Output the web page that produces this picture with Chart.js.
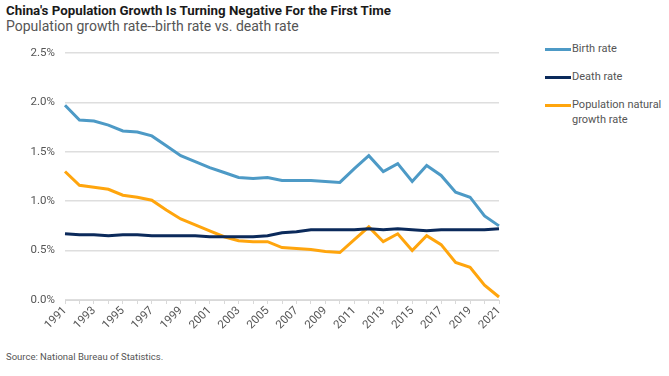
<!DOCTYPE html>
<html>
<head>
<meta charset="utf-8">
<script src="https://cdn.jsdelivr.net/npm/chart.js@4"></script>
<style>
  body { margin: 0; background: #fff; font-family: Roboto, "Liberation Sans", sans-serif; }
  #wrap { position: relative; width: 669px; height: 376px; overflow: hidden; }
  #title { position: absolute; left: 6px; top: 3px; font-size: 13.3px; font-weight: bold; color: #1a1a1a; white-space: nowrap; }
  #subtitle { position: absolute; left: 6px; top: 18px; font-size: 14px; color: #555; white-space: nowrap; }
  #chartBox { position: absolute; left: 0; top: 36px; width: 520px; height: 310px; }
  #legend { position: absolute; left: 545px; top: 41px; font-size: 11px; color: #555; }
  .item { position: relative; height: 28px; }
  .item span.swatch { position: absolute; left: 0; top: 7px; width: 26px; height: 3px; }
  .item span.txt { position: absolute; left: 27px; top: 0; line-height: 15px; white-space: nowrap; }
  #source { position: absolute; left: 6px; top: 351px; font-size: 9.5px; color: #555; }
</style>
</head>
<body>
<div id="wrap">
  <div id="title">China's Population Growth Is Turning Negative For the First Time</div>
  <div id="subtitle">Population growth rate--birth rate vs. death rate</div>
  <div id="chartBox"><canvas id="c"></canvas></div>
  <div id="legend"></div>
  <div id="source">Source: National Bureau of Statistics.</div>
</div>
<script>
// Données (%)
const anos = [1991, 1992, 1993, 1994, 1995, 1996, 1997, 1998, 1999, 2000,
  2001, 2002, 2003, 2004, 2005, 2006, 2007, 2008, 2009, 2010,
  2011, 2012, 2013, 2014, 2015, 2016, 2017, 2018, 2019, 2020, 2021];

const birthRate = [1.97, 1.82, 1.81, 1.77, 1.71, 1.70, 1.66, 1.56, 1.46, 1.40,
  1.34, 1.29, 1.24, 1.23, 1.24, 1.21, 1.21, 1.21, 1.20, 1.19,
  1.33, 1.46, 1.30, 1.38, 1.20, 1.36, 1.26, 1.09, 1.04, 0.85, 0.75];

const deathRate = [0.67, 0.66, 0.66, 0.65, 0.66, 0.66, 0.65, 0.65, 0.65, 0.65,
  0.64, 0.64, 0.64, 0.64, 0.65, 0.68, 0.69, 0.71, 0.71, 0.71,
  0.71, 0.72, 0.71, 0.72, 0.71, 0.70, 0.71, 0.71, 0.71, 0.71, 0.72];

const naturalGrowth = [1.30, 1.16, 1.14, 1.12, 1.06, 1.04, 1.01, 0.91, 0.82, 0.76,
  0.70, 0.64, 0.60, 0.59, 0.59, 0.53, 0.52, 0.51, 0.49, 0.48,
  0.61, 0.74, 0.59, 0.67, 0.50, 0.65, 0.56, 0.38, 0.33, 0.15, 0.03];

const yTicks = [0, 0.5, 1.0, 1.5, 2.0, 2.5];

const corBirth = '#4d9ac6';
const corDeath = '#0b2a5b';
const corGrowth = '#ffa50d';

const series = [
  { label: 'Birth rate', data: birthRate, color: corBirth },
  { label: 'Death rate', data: deathRate, color: corDeath },
  { label: 'Population natural\ngrowth rate', data: naturalGrowth, color: corGrowth }
];

// Légende HTML
const legend = document.getElementById('legend');
series.forEach(s => {
  const div = document.createElement('div');
  div.className = 'item';
  div.innerHTML = '<span class="swatch" style="background:' + s.color + '"></span>' +
    '<span class="txt">' + s.label.replace('\n', '<br>') + '</span>';
  legend.appendChild(div);
});

new Chart(document.getElementById('c'), {
  type: 'line',
  data: {
    labels: anos.map(String),
    datasets: series.map(s => ({
      label: s.label,
      data: s.data,
      borderColor: s.color,
      backgroundColor: s.color,
      borderWidth: 3,
      pointRadius: 0,
      tension: 0,
      fill: false
    }))
  },
  options: {
    responsive: true,
    maintainAspectRatio: false,
    animation: false,
    layout: { padding: { top: 14, right: 21, left: 0, bottom: 0 } },
    plugins: {
      legend: { display: false },
      tooltip: { enabled: false }
    },
    scales: {
      x: {
        offset: false,
        grid: { drawOnChartArea: false, color: '#d9d9d9', tickLength: 4 },
        border: { color: '#d9d9d9', width: 1 },
        ticks: {
          autoSkip: false,
          minRotation: 45,
          maxRotation: 45,
          color: '#555',
          font: { size: 11.5, family: 'Roboto' },
          padding: 0,
          callback: function (v, i) { return i % 2 === 0 ? anos[i] : ''; }
        },
        afterFit: scale => { scale.height = 46; }
      },
      y: {
        min: 0,
        max: 2.5,
        afterBuildTicks: scale => { scale.ticks = yTicks.map(v => ({ value: v })); },
        grid: { color: '#dedede', lineWidth: 1.5, drawTicks: false },
        border: { display: false },
        ticks: {
          color: '#555',
          padding: 10,
          font: { size: 11.5, family: 'Roboto' },
          callback: v => v.toFixed(1) + '%'
        },
        afterFit: scale => { scale.width = 65; }
      }
    }
  }
});
</script>
</body>
</html>
